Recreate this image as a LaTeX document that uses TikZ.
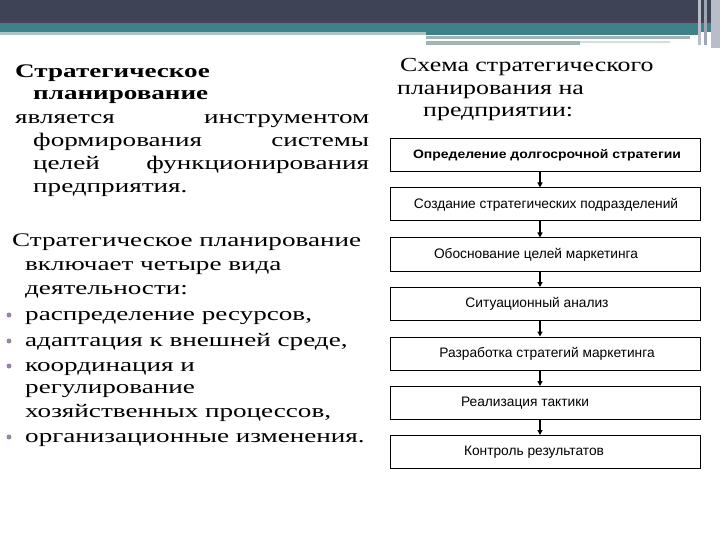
\documentclass[tikz,border=0pt]{standalone}
\usepackage{fontspec}
\setmainfont{Liberation Serif}
\newfontfamily\lser[FakeStretch=1.41]{Liberation Serif}
\newfontfamily\tser[FakeStretch=1.3]{Liberation Serif}
\newfontfamily\bsans[FakeStretch=1.15]{Liberation Sans}
\newfontfamily\rsans{Liberation Sans}
\usetikzlibrary{arrows.meta}
\definecolor{hdark}{HTML}{3F4356}
\definecolor{hpurp}{HTML}{4A4259}
\definecolor{hteal}{HTML}{3F8189}
\definecolor{hlight}{HTML}{AFC2C6}
\definecolor{hgray}{HTML}{A0B3B7}
\definecolor{hpale}{HTML}{D3DCDE}
\definecolor{vgray}{HTML}{B9BDC9}
\definecolor{vgray2}{HTML}{9EA5B3}
\definecolor{bulc}{HTML}{9A83A2}
\tikzset{
  ln/.style={anchor=base west, inner sep=0pt, font=\lser\fontsize{19.3}{23}\selectfont},
  lnb/.style={ln, font=\lser\bfseries\fontsize{19.3}{23}\selectfont},
  ttl/.style={anchor=base west, inner sep=0pt, font=\tser\fontsize{20}{24}\selectfont},
  bul/.style={circle, fill=bulc, inner sep=0pt, minimum size=5bp},
  box/.style={draw=black, line width=1bp, minimum width=310bp, minimum height=33bp, inner sep=0pt, font=\rsans\fontsize{13.8}{16}\selectfont},
  boxb/.style={box, font=\bsans\bfseries\fontsize{12.2}{14}\selectfont},
  arr/.style={line width=1.6bp, -{Triangle[length=5bp,width=5bp]}}
}
\begin{document}
\begin{tikzpicture}[x=1bp,y=-1bp]
\useasboundingbox (0,0) rectangle (720,540);
\fill[white] (0,0) rectangle (720,540);
% header
\fill[hdark] (0,0) rectangle (720,23);
\fill[hpurp] (0,20) rectangle (720,23);
\fill[hteal] (0,23) rectangle (720,32);
\fill[hlight] (0,32) rectangle (426,35);
\fill[hteal] (426,32) rectangle (700,35);
\fill[hgray] (426,36) rectangle (690,39);
\fill[hgray] (426,41) rectangle (580,45);
\fill[hpale] (580,41) rectangle (670,43);
\fill[vgray] (698,0) rectangle (701,45);
\fill[vgray2] (704,0) rectangle (707,45);
\fill[vgray] (711,0) rectangle (720,48);
% left text, paragraph 1
\node[lnb] (h1) at (15,78) {Стратегическое};
\node[lnb] (h2) at (33,100) {планирование};
\node[ln] (p1) at (15,124) {\hbox to 354bp{является\hfill инструментом}};
\node[ln] (p2) at (33,147) {\hbox to 336bp{формирования\hfill системы}};
\node[ln] (p3) at (33,170) {\hbox to 336bp{целей\hfill функционирования}};
\node[ln] (p4) at (33,193) {предприятия.};
% left text, paragraph 2
\node[ln] (q1) at (12,247) {Стратегическое планирование};
\node[ln] (q2) at (25,271) {включает четыре вида};
\node[ln] (q3) at (25,294) {деятельности:};
\node[ln] (q4) at (25,320) {распределение ресурсов,};
\node[ln] (q5) at (25,346) {адаптация к внешней среде,};
\node[ln] (q6) at (25,371) {координация и};
\node[ln] (q7) at (25,393) {регулирование};
\node[ln] (q8) at (25,417) {хозяйственных процессов,};
\node[ln] (q9) at (25,442) {организационные изменения.};
\node[bul] (d1) at (9,315) {};
\node[bul] (d2) at (9,341) {};
\node[bul] (d3) at (9,366) {};
\node[bul] (d4) at (9,437) {};
% right title
\node[ttl] (r1) at (400,72) {Схема стратегического};
\node[ttl] (r2) at (397,95) {планирования на};
\node[ttl] (r3) at (423,117) {предприятии:};
% boxes
\node[boxb] (b1) at (545,155.5) {\hspace*{4bp}Определение долгосрочной стратегии};
\node[box] (b2) at (545,204.5) {\hspace*{2bp}Создание стратегических подразделений};
\node[box] (b3) at (545,254.5) {\hspace*{-18bp}Обоснование целей маркетинга};
\node[box] (b4) at (545,304) {\hspace*{-16bp}Ситуационный анализ};
\node[box] (b5) at (545,353.5) {\hspace*{4bp}Разработка стратегий маркетинга};
\node[box] (b6) at (545,403) {\hspace*{-40bp}Реализация тактики};
\node[box] (b7) at (545,452) {\hspace*{-22bp}Контроль результатов};
\coordinate (ax) at (540,0);
\draw[arr] (b1.south -| ax) -- (b2.north -| ax);
\draw[arr] (b2.south -| ax) -- (b3.north -| ax);
\draw[arr] (b3.south -| ax) -- (b4.north -| ax);
\draw[arr] (b4.south -| ax) -- (b5.north -| ax);
\draw[arr] (b5.south -| ax) -- (b6.north -| ax);
\draw[arr] (b6.south -| ax) -- (b7.north -| ax);
\end{tikzpicture}
\end{document}
